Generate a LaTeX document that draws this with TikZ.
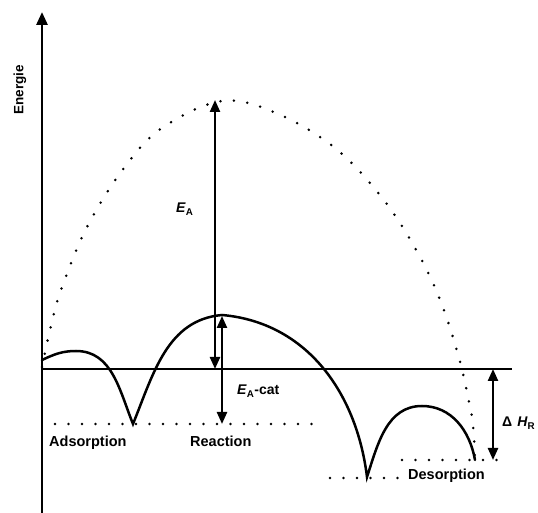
\documentclass[tikz,border=0pt]{standalone}
\usepackage{fontspec}
\setmainfont{Liberation Sans}
\usetikzlibrary{arrows.meta}
\begin{document}
\begin{tikzpicture}[x=1pt,y=1pt,
  curve/.style={line width=2.5pt, line cap=round},
  dots/.style={line width=2.8pt, line cap=round, dash pattern=on 0pt off 13.5pt},
  dbl/.style={line width=2.3pt, {Triangle[length=12pt,width=10pt]}-{Triangle[length=12pt,width=10pt]}},
  lbl/.style={font=\bfseries\fontsize{14.5}{16}\selectfont, inner sep=0pt, anchor=base west}
]
\useasboundingbox (0,0) rectangle (538,513);
% axis
\coordinate (o) at (42,0);
\coordinate (ytop) at (42,501);
\draw[line width=2.7pt, -{Triangle[length=13pt,width=11pt]}] (o) -- (ytop);
\node[rotate=90, font=\bfseries\fontsize{13.5}{15}\selectfont, inner sep=0pt] (energie) at (20,423) {Energie};
% baseline
\coordinate (b0) at (42,144);
\coordinate (b1) at (512,144);
\draw[line width=2.3pt] (b0) -- (b1);
% dotted levels
\coordinate (r0) at (55,89);
\coordinate (r1) at (320,89);
\draw[dots] (r0) -- (r1);
\coordinate (l0) at (330,35);
\coordinate (l1) at (400,35);
\draw[dots] (l0) -- (l1);
\coordinate (d0) at (402,53);
\coordinate (d1) at (502,53);
\draw[dots] (d0) -- (d1);
% dotted uncatalysed curve
\draw[dots] plot[smooth, tension=0.6] coordinates {(42,146) (50,183) (61,223) (87,286) (124,345) (162,385) (222,412) (276,400) (335,365) (383,314) (419,258) (442,208) (459,155) (468,116) (473,88) (475,53)};
% solid catalysed curve
\coordinate (s0) at (42,153);
\coordinate (p1) at (76,162);
\coordinate (m1) at (133,89);
\coordinate (p2) at (222,198);
\coordinate (m2) at (367,36);
\coordinate (p3) at (422,107);
\coordinate (e3) at (475,53);
\draw[curve] (s0) to[out=25,in=180] (p1) to[out=0,in=112] (m1)
  to[out=68,in=185] (p2) to[out=-5,in=97] (m2)
  to[out=72,in=180] (p3) to[out=0,in=100] (e3);
% arrows
\coordinate (ea0) at (215,413);
\coordinate (ea1) at (215,144);
\draw[dbl] (ea0) -- (ea1);
\coordinate (ec0) at (222,197);
\coordinate (ec1) at (222,89);
\draw[dbl] (ec0) -- (ec1);
\coordinate (h0) at (493,144);
\coordinate (h1) at (493,53);
\draw[dbl] (h0) -- (h1);
% labels
\node[lbl, font=\bfseries\fontsize{14}{16}\selectfont] (ea) at (176,300) {\textit{E}\textsubscript{\upshape A}};
\node[lbl, font=\bfseries\fontsize{14}{16}\selectfont] (eacat) at (237,118) {\textit{E}\textsubscript{\upshape A}-cat};
\node[lbl] (ads) at (49,66) {Adsorption};
\node[lbl] (rea) at (190,66) {Reaction};
\node[lbl] (des) at (408,33) {Desorption};
\node[lbl, font=\bfseries\fontsize{14}{16}\selectfont] (dh) at (502,86) {Δ\hspace{5pt}\textit{H}\textsubscript{\upshape R}};
\end{tikzpicture}
\end{document}
